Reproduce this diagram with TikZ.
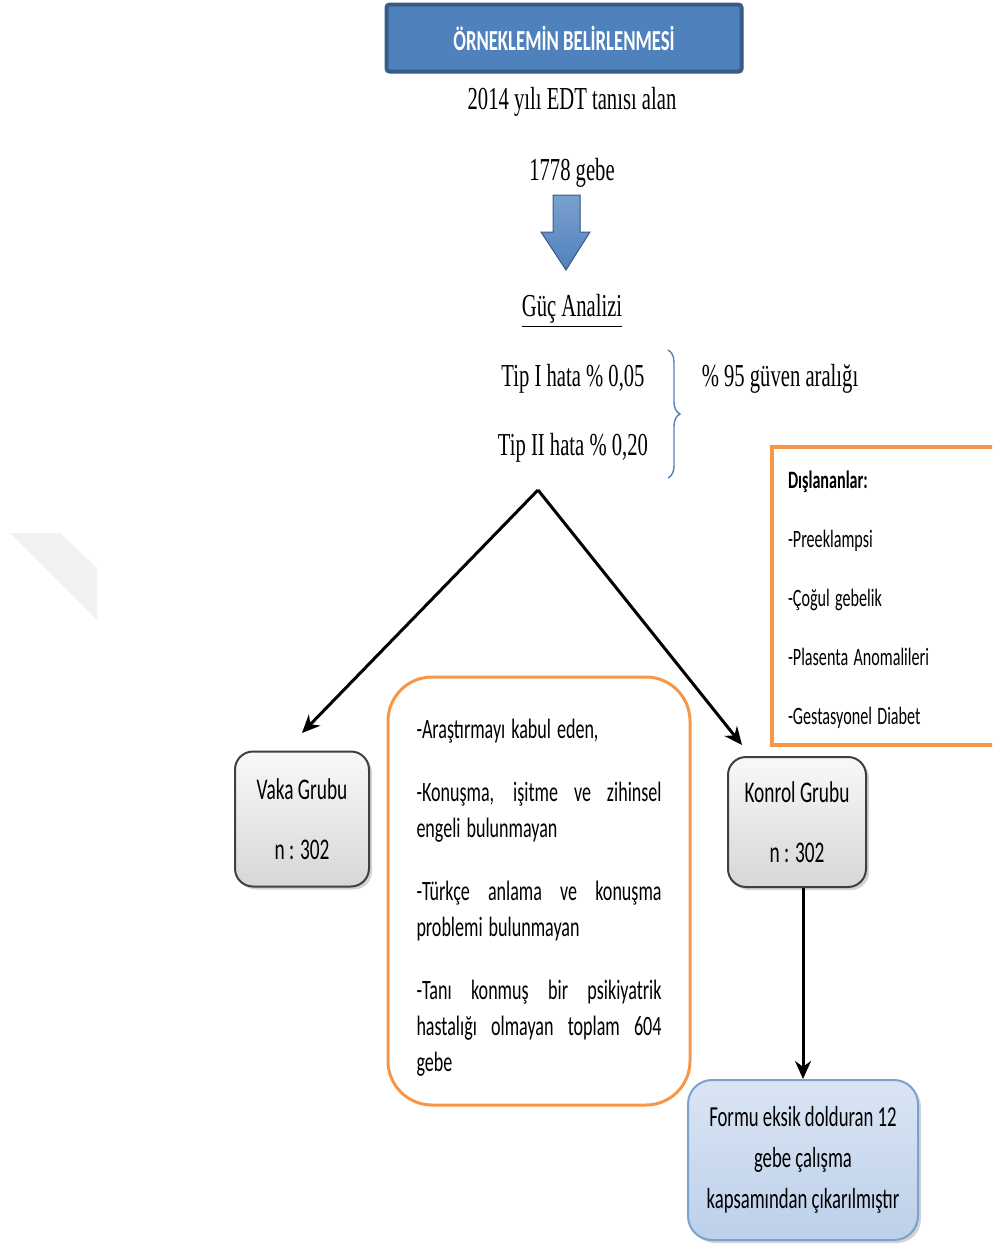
\documentclass[tikz,border=0pt]{standalone}
\usepackage{fontspec}
\usepackage{xcolor}
\usepackage{graphicx}
\usetikzlibrary{arrows.meta,shadows,decorations.pathreplacing}
\newfontfamily\tnr{Liberation Serif}
\newfontfamily\cbr{Carlito}
\definecolor{hdrblue}{HTML}{4F81BD}
\definecolor{hdredge}{HTML}{385D8A}
\definecolor{boxorange}{HTML}{F79646}
\definecolor{formblue}{HTML}{BCD0EA}
\definecolor{formedge}{HTML}{7EA0D0}
% the texts of the picture are narrow
\newcommand{\narrow}[1]{\scalebox{0.645}[1]{#1}}
\newcommand{\fullline}[1]{\narrow{\hbox to 190pt{\spaceskip=0.23em plus 1fil\relax #1}}}

\begin{document}
\begin{tikzpicture}[x=0.5pt, y=-0.5pt, line width=1.5pt,
    plain/.style={font=\tnr\fontsize{16}{19}\selectfont},
    grpbox/.style={draw=black!75, line width=1pt, rounded corners=9pt,
      top color=gray!5, bottom color=gray!32, align=center,
      drop shadow={opacity=0.35, shadow xshift=1.5pt, shadow yshift=-1.5pt},
      font=\cbr\fontsize{15}{30}\selectfont},
    grparrow/.style={-{Stealth[length=9pt,width=8pt]}, line width=1.5pt}]
    \path[use as bounding box, clip] (0,0) rectangle (992,1244);
    % faint mark on the left
    \fill[gray!10] (10,533) -- (60,533) -- (97,568) -- (97,620) -- cycle;

    \node (head) [draw=hdredge, line width=2pt, fill=hdrblue, rounded corners=1.5pt,
      minimum width=177.5pt, minimum height=33.5pt, text=white,
      font=\cbr\bfseries\fontsize{14.5}{16}\selectfont,
      drop shadow={opacity=0.3, shadow xshift=1pt, shadow yshift=-1pt}]
      at (564,38) {\narrow{ÖRNEKLEMİN BELİRLENMESİ}};
    \node (edt) [plain] at (572,102) {\narrow{2014 yılı EDT tanısı alan}};
    \node (gebe) [plain] at (572,173) {\narrow{1778 gebe}};

    % blue block arrow
    \filldraw[draw=hdredge, line width=0.5pt, top color=hdrblue!75, bottom color=hdrblue]
      (553,195) -- (580,195) -- (580,232) -- (590,232) -- (566,270)
      -- (541,232) -- (553,232) -- cycle;

    \node (guc) [plain] at (572,311) {\narrow{\underline{Güç Analizi}}};
    \node (tip1) [plain] at (573,379) {\narrow{Tip I hata \% 0,05}};
    \node (tip2) [plain] at (573,448) {\narrow{Tip II hata \% 0,20}};
    \draw[decorate, decoration={brace, amplitude=6pt}, draw=hdrblue, line width=0.7pt]
      (668,350) -- (668,478);
    \node (guven) [plain] at (780,379) {\narrow{\% 95 güven aralığı}};

    \coordinate (apex) at (538,490);
    \coordinate (vakatip) at (302,733);
    \coordinate (kontip) at (742,745);

    \node (vaka) [grpbox, minimum width=67pt, minimum height=67.5pt] at (302,819)
      {\narrow{Vaka Grubu}\\ \narrow{n : 302}};
    \node (konrol) [grpbox, minimum width=69pt, minimum height=65pt] at (797,822)
      {\narrow{Konrol Grubu}\\ \narrow{n : 302}};

    \node (crit) [draw=boxorange, line width=1.5pt, rounded corners=22pt,
      minimum width=151pt, minimum height=214pt, text width=122.5pt, align=left,
      font=\cbr\fontsize{14}{18}\selectfont] at (539,891)
      {\rule{0pt}{16pt}\narrow{-Araştırmayı kabul eden,}\\[13.5pt]
       \fullline{-Konuşma, işitme ve zihinsel}\\ \narrow{engeli bulunmayan}\\[13.5pt]
       \fullline{-Türkçe anlama ve konuşma}\\ \narrow{problemi bulunmayan}\\[13.5pt]
       \fullline{-Tanı konmuş bir psikiyatrik}\\
       \fullline{hastalığı olmayan toplam 604}\\ \narrow{gebe}};

    \node (excl) [draw=boxorange, line width=2pt, minimum width=114pt,
      minimum height=149pt, text width=98pt, align=left,
      font=\cbr\fontsize{12.5}{29.5}\selectfont] at (886,596)
      {\rule{0pt}{13pt}\narrow{\textbf{Dışlananlar:}}\\ \narrow{-Preeklampsi}\\
       \narrow{-Çoğul gebelik}\\ \narrow{-Plasenta Anomalileri}\\
       \narrow{-Gestasyonel Diabet}};

    \node (form) [draw=formedge, line width=1pt, rounded corners=12pt,
      top color=formblue!55, bottom color=formblue, minimum width=115pt,
      minimum height=80pt, align=center,
      drop shadow={opacity=0.35, shadow xshift=1.5pt, shadow yshift=-1.5pt},
      font=\cbr\fontsize{14.5}{20.5}\selectfont] at (803,1160)
      {\narrow{Formu eksik dolduran 12}\\ \narrow{gebe çalışma}\\
       \narrow{kapsamından çıkarılmıştır}};

    \draw[grparrow] (apex) -- (vakatip);
    \draw[grparrow] (apex) -- (kontip);
    \draw[grparrow] (konrol.south -| form.north) -- (form.north);
\end{tikzpicture}
\end{document}
